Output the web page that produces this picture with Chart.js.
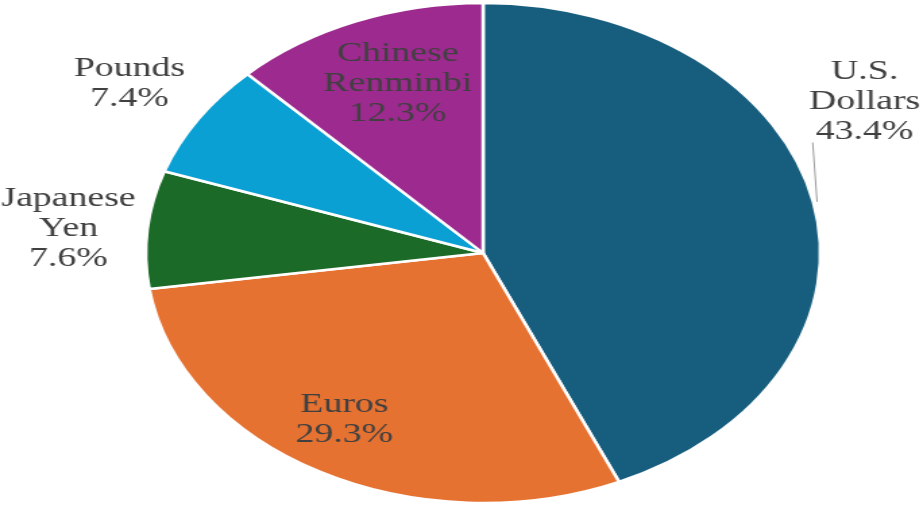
<!DOCTYPE html>
<html>
<head>
<meta charset="utf-8">
<script src="https://cdn.jsdelivr.net/npm/chart.js@4"></script>
<style>
  html, body { margin: 0; padding: 0; background: #fff; overflow: hidden; }
  /* the pie is drawn round and widened to an ellipse */
  #stage { width: 684px; height: 505px; transform: scaleX(1.3494); transform-origin: 0 0; }
  #probe { position: absolute; left: -9999px; font: 28px "Liberation Serif", "Times New Roman", Times, serif; }
</style>
</head>
<body>
<span id="probe">Renminbi 12.3%</span>
<div id="stage"><canvas id="pie"></canvas></div>
<script>
const currencies = ['U.S. Dollars', 'Euros', 'Japanese Yen', 'Pounds', 'Chinese Renminbi'];
const labelLines = [['U.S.', 'Dollars'], ['Euros'], ['Japanese', 'Yen'], ['Pounds'], ['Chinese', 'Renminbi']];
const shares = [43.4, 29.3, 7.6, 7.4, 12.3];
const sliceColors = ['#175e7e', '#e67232', '#1b6a27', '#0aa0d3', '#9d2a8f'];

// label block centres, in units of the pie radius from its centre
const labelOffsets = [[1.131, -0.604], [-0.411, 0.665], [-1.229, -0.098], [-1.048, -0.677], [-0.253, -0.677]];
// leader line for the dollar label, same units
const leader = { slice: 0, from: [0.977, -0.442], to: [0.99, -0.205] };

const labelFont = '28px "Liberation Serif", "Times New Roman", Times, serif';

const sliceLabels = {
  id: 'sliceLabels',
  afterDatasetsDraw(chart) {
    const ctx = chart.ctx;
    const meta = chart.getDatasetMeta(0);
    ctx.save();
    ctx.font = labelFont;
    ctx.fillStyle = '#404040';
    ctx.textAlign = 'center';
    ctx.textBaseline = 'middle';
    const lh = 30;
    meta.data.forEach((arc, i) => {
      const { x, y, outerRadius: r } = arc.getProps(['x', 'y', 'outerRadius'], true);
      const lines = [...labelLines[i], shares[i].toFixed(1) + '%'];
      const cx = x + labelOffsets[i][0] * r;
      const cy = y + labelOffsets[i][1] * r;
      lines.forEach((t, k) => ctx.fillText(t, cx, cy + (k - (lines.length - 1) / 2) * lh));
    });
    const a = meta.data[leader.slice].getProps(['x', 'y', 'outerRadius'], true);
    ctx.strokeStyle = '#9a9a9a';
    ctx.lineWidth = 1;
    ctx.beginPath();
    ctx.moveTo(a.x + leader.from[0] * a.outerRadius, a.y + leader.from[1] * a.outerRadius);
    ctx.lineTo(a.x + leader.to[0] * a.outerRadius, a.y + leader.to[1] * a.outerRadius);
    ctx.stroke();
    ctx.restore();
  }
};

function draw() {
  new Chart(document.getElementById('pie'), {
    type: 'pie',
    data: {
      labels: currencies,
      datasets: [{
        data: shares,
        backgroundColor: sliceColors,
        borderColor: '#ffffff',
        borderWidth: 2.5,
        hoverOffset: 0,
        radius: 250
      }]
    },
    options: {
      responsive: true,
      maintainAspectRatio: false,
      animation: false,
      devicePixelRatio: 1,
      layout: { padding: { left: 108, right: 76, top: 3, bottom: 2 } },
      plugins: { legend: { display: false }, tooltip: { enabled: false } }
    },
    plugins: [sliceLabels]
  });
}

if (document.fonts && document.fonts.load) {
  document.fonts.load(labelFont).then(draw, draw);
} else {
  draw();
}
</script>
</body>
</html>
